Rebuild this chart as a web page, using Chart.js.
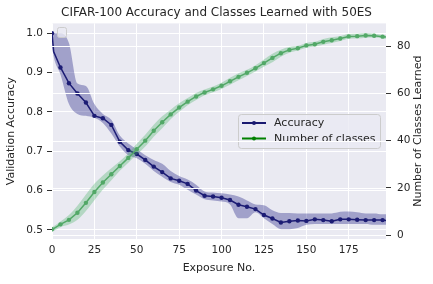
<!DOCTYPE html>
<html>
<head>
<meta charset="utf-8">
<script src="https://cdn.jsdelivr.net/npm/chart.js@4.4.0/dist/chart.umd.min.js"></script>
<style>
  html, body { margin: 0; padding: 0; background: #ffffff; }
  #wrap { width: 433px; height: 284px; }
</style>
</head>
<body>
<div id="wrap"><canvas id="chart" width="433" height="284"></canvas></div>
<script>
// values (markers every 5 exposures)
const exposures = [0, 1, 5, 10, 15, 20, 25, 30, 35, 40, 45, 50, 55, 60, 65, 70, 75, 80, 85, 90, 95,
  100, 105, 110, 115, 120, 125, 130, 135, 140, 145, 150, 155, 160, 165, 170, 175, 180, 185, 190, 195, 197];

const accuracy = [1.0, 0.953, 0.913, 0.873, 0.847, 0.824, 0.790, 0.784, 0.767, 0.724, 0.703, 0.693, 0.678,
  0.661, 0.647, 0.631, 0.625, 0.617, 0.600, 0.587, 0.585, 0.582, 0.576, 0.564, 0.559, 0.553, 0.538, 0.529,
  0.519, 0.522, 0.524, 0.523, 0.527, 0.525, 0.522, 0.527, 0.527, 0.526, 0.525, 0.525, 0.525, 0.524];
const accuracyUpper = [1.0, 1.0, 1.0, 0.975, 0.872, 0.866, 0.82, 0.795, 0.78, 0.74, 0.72, 0.705, 0.69,
  0.678, 0.668, 0.65, 0.637, 0.628, 0.615, 0.598, 0.595, 0.593, 0.59, 0.585, 0.575, 0.565, 0.563, 0.55,
  0.543, 0.543, 0.542, 0.542, 0.542, 0.542, 0.542, 0.546, 0.547, 0.545, 0.542, 0.542, 0.54, 0.54];
const accuracyLower = [0.97, 0.94, 0.895, 0.82, 0.795, 0.79, 0.785, 0.772, 0.745, 0.712, 0.69, 0.682, 0.668,
  0.65, 0.635, 0.622, 0.615, 0.602, 0.59, 0.578, 0.575, 0.572, 0.565, 0.53, 0.53, 0.545, 0.53, 0.515,
  0.502, 0.502, 0.505, 0.513, 0.515, 0.515, 0.515, 0.515, 0.515, 0.515, 0.515, 0.513, 0.513, 0.513];

const classes = [2.5, 2.8, 4.6, 6.5, 9.5, 13.7, 18.3, 22.3, 25.8, 29.3, 32.7, 36.4, 40.0, 44.2, 47.8, 51.1,
  54.0, 56.5, 58.7, 60.4, 61.7, 63.2, 65.1, 67.0, 68.7, 70.6, 72.8, 75.0, 77.0, 78.4, 79.1, 80.3, 80.8,
  81.8, 82.5, 83.2, 84.1, 84.2, 84.5, 84.4, 84.0, 83.8];
const classesUpper = [3.5, 3.8, 5.8, 8.5, 12.5, 17.2, 21.8, 25.3, 28.3, 31.3, 34.7, 38.7, 42.5, 46.7, 50.3,
  53.1, 55.8, 58.0, 60.2, 61.6, 62.9, 64.5, 66.6, 68.5, 70.0, 71.9, 74.3, 76.8, 78.5, 79.6, 80.1, 81.3,
  81.8, 83.0, 83.7, 84.2, 85.1, 85.2, 85.5, 85.2, 84.7, 84.5];
const classesLower = [1.5, 1.8, 3.4, 4.5, 6.5, 10.2, 14.8, 19.3, 23.3, 27.3, 30.7, 34.1, 37.5, 41.7, 45.3,
  49.1, 52.2, 55.0, 57.2, 59.2, 60.5, 61.9, 63.6, 65.5, 67.4, 69.3, 71.3, 73.2, 75.5, 77.2, 78.1, 79.3,
  79.8, 80.6, 81.3, 82.2, 83.1, 83.2, 83.5, 83.6, 83.3, 83.1];

const xTicks = [0, 25, 50, 75, 100, 125, 150, 175];
const accTicks = [0.5, 0.6, 0.7, 0.8, 0.9, 1.0];
const classTicks = [0, 20, 40, 60, 80];

const chartTitle = 'CIFAR-100 Accuracy and Classes Learned with 50ES';
const xTitle = 'Exposure No.';
const yTitle = 'Validation Accuracy';
const y1Title = 'Number of Classes Learned';
const legendItems = [
  { label: 'Accuracy', color: '#191970' },
  { label: 'Number of classes', color: '#008000' }
];

const FONT = 'DejaVu Sans';
const TEXT = '#262626';
const BG = '#eaeaf2';

function points(values) {
  return exposures.map((x, i) => ({ x: x, y: values[i] }));
}

function markerRadius(c) {
  return exposures[c.dataIndex] % 5 === 0 ? 2.2 : 0;
}

// fills the plot area with the seaborn grey
const plotBackground = {
  id: 'plotBackground',
  beforeDraw(chart) {
    const a = chart.chartArea;
    const ctx = chart.ctx;
    ctx.save();
    ctx.fillStyle = BG;
    ctx.fillRect(a.left, a.top, a.right - a.left, a.bottom - a.top);
    ctx.restore();
  }
};

function roundRect(ctx, x, y, w, h, r) {
  ctx.beginPath();
  ctx.moveTo(x + r, y);
  ctx.lineTo(x + w - r, y);
  ctx.quadraticCurveTo(x + w, y, x + w, y + r);
  ctx.lineTo(x + w, y + h - r);
  ctx.quadraticCurveTo(x + w, y + h, x + w - r, y + h);
  ctx.lineTo(x + r, y + h);
  ctx.quadraticCurveTo(x, y + h, x, y + h - r);
  ctx.lineTo(x, y + r);
  ctx.quadraticCurveTo(x, y, x + r, y);
  ctx.closePath();
}

// legend of the first axis, then the twin axis grid drawn over it
const overlay = {
  id: 'overlay',
  afterDatasetDraw(chart, args) {
    if (args.index !== 4) return;
    const ctx = chart.ctx;
    const a = chart.chartArea;
    ctx.save();

    // legend box
    roundRect(ctx, 238.5, 114.5, 142, 34, 3);
    ctx.fillStyle = 'rgba(234,234,242,0.8)';
    ctx.fill();
    ctx.strokeStyle = '#cccccc';
    ctx.lineWidth = 1;
    ctx.stroke();

    ctx.font = '11px "' + FONT + '"';
    ctx.textBaseline = 'middle';
    ctx.textAlign = 'left';
    legendItems.forEach((item, i) => {
      const y = 123 + i * 15.5;
      ctx.strokeStyle = item.color;
      ctx.lineWidth = 2;
      ctx.beginPath();
      ctx.moveTo(242, y);
      ctx.lineTo(266, y);
      ctx.stroke();
      ctx.fillStyle = item.color;
      ctx.beginPath();
      ctx.arc(254, y, 2, 0, Math.PI * 2);
      ctx.fill();
      ctx.fillStyle = TEXT;
      ctx.fillText(item.label, 274, y + 0.5);
    });

    // grid of the right axis, drawn above the first axis content
    const s = chart.scales.y1;
    ctx.strokeStyle = '#ffffff';
    ctx.lineWidth = 1;
    classTicks.forEach(v => {
      const y = Math.round(s.getPixelForValue(v)) + 0.5;
      ctx.beginPath();
      ctx.moveTo(a.left, y);
      ctx.lineTo(a.right, y);
      ctx.stroke();
    });
    ctx.restore();
  },
  afterDatasetsDraw(chart) {
    const ctx = chart.ctx;
    const a = chart.chartArea;
    ctx.save();
    // empty legend of the twin axis
    roundRect(ctx, 57.5, 27.5, 9, 10, 2);
    ctx.fillStyle = 'rgba(234,234,242,0.8)';
    ctx.fill();
    ctx.strokeStyle = '#cccccc';
    ctx.lineWidth = 1;
    ctx.stroke();
    // right axis title, reading bottom to top like matplotlib
    ctx.translate(418, (a.top + a.bottom) / 2);
    ctx.rotate(-Math.PI / 2);
    ctx.font = '11px "' + FONT + '"';
    ctx.fillStyle = TEXT;
    ctx.textAlign = 'center';
    ctx.textBaseline = 'middle';
    ctx.fillText(y1Title, 0, 0);
    ctx.restore();
  }
};

const ctx = document.getElementById('chart').getContext('2d');
const chart = new Chart(ctx, {
  type: 'line',
  data: {
    datasets: [
      {
        label: 'acc upper', data: points(accuracyUpper), yAxisID: 'y', order: 5,
        borderWidth: 0, pointRadius: 0, fill: '+1', cubicInterpolationMode: 'monotone',
        backgroundColor: 'rgba(20,20,125,0.34)'
      },
      {
        label: 'acc lower', data: points(accuracyLower), yAxisID: 'y', order: 5,
        borderWidth: 0, pointRadius: 0, fill: false, cubicInterpolationMode: 'monotone'
      },
      {
        label: 'classes upper', data: points(classesUpper), yAxisID: 'y1', order: 3,
        borderWidth: 0, pointRadius: 0, fill: '+1', cubicInterpolationMode: 'monotone',
        backgroundColor: 'rgba(70,175,100,0.33)'
      },
      {
        label: 'classes lower', data: points(classesLower), yAxisID: 'y1', order: 3,
        borderWidth: 0, pointRadius: 0, fill: false, cubicInterpolationMode: 'monotone'
      },
      {
        label: 'Accuracy', data: points(accuracy), yAxisID: 'y', order: 4,
        borderColor: '#1c1c74', backgroundColor: '#1c1c74', borderWidth: 1.5,
        pointRadius: markerRadius, pointBorderWidth: 0, fill: false, tension: 0
      },
      {
        label: 'Number of classes', data: points(classes), yAxisID: 'y1', order: 2,
        borderColor: '#52a867', backgroundColor: '#52a867', borderWidth: 1.5,
        pointRadius: markerRadius, pointBorderWidth: 0, fill: false, tension: 0
      }
    ]
  },
  options: {
    responsive: false,
    animation: false,
    events: [],
    layout: { padding: 0 },
    plugins: {
      legend: { display: false },
      tooltip: { enabled: false },
      title: {
        display: true, text: chartTitle, color: TEXT,
        font: { family: FONT, size: 12, weight: 'normal' },
        padding: { top: 6, bottom: 3 }
      }
    },
    scales: {
      x: {
        type: 'linear', min: 0, max: 197,
        afterBuildTicks: s => { s.ticks = xTicks.map(v => ({ value: v })); },
        afterFit: s => { s.height = 45; },
        grid: { color: '#ffffff', lineWidth: 1, drawTicks: false },
        border: { display: false },
        ticks: { color: TEXT, font: { family: FONT, size: 10.5 }, padding: 5, maxRotation: 0 },
        title: {
          display: true, text: xTitle, color: TEXT,
          font: { family: FONT, size: 11 }, padding: { top: 4, bottom: 9 }
        }
      },
      y: {
        type: 'linear', position: 'left', min: 0.477, max: 1.025,
        afterBuildTicks: s => { s.ticks = accTicks.map(v => ({ value: v })); },
        afterFit: s => { s.width = 52; },
        grid: { color: '#ffffff', lineWidth: 1, tickColor: '#333333', tickLength: 5 },
        border: { display: false },
        ticks: { color: TEXT, font: { family: FONT, size: 10.5 }, padding: 4, callback: v => v.toFixed(1) },
        title: {
          display: true, text: yTitle, color: TEXT,
          font: { family: FONT, size: 11 }, padding: { top: 5, bottom: 0 }
        }
      },
      y1: {
        type: 'linear', position: 'right', min: -1.6, max: 89.6,
        afterBuildTicks: s => { s.ticks = classTicks.map(v => ({ value: v })); },
        afterFit: s => { s.width = 47; },
        grid: { drawOnChartArea: false, tickColor: '#333333', tickLength: 5 },
        border: { display: false },
        ticks: { color: TEXT, font: { family: FONT, size: 10.5 }, padding: 6, callback: v => String(v) },
        title: { display: false }
      }
    }
  },
  plugins: [plotBackground, overlay]
});
</script>
</body>
</html>
